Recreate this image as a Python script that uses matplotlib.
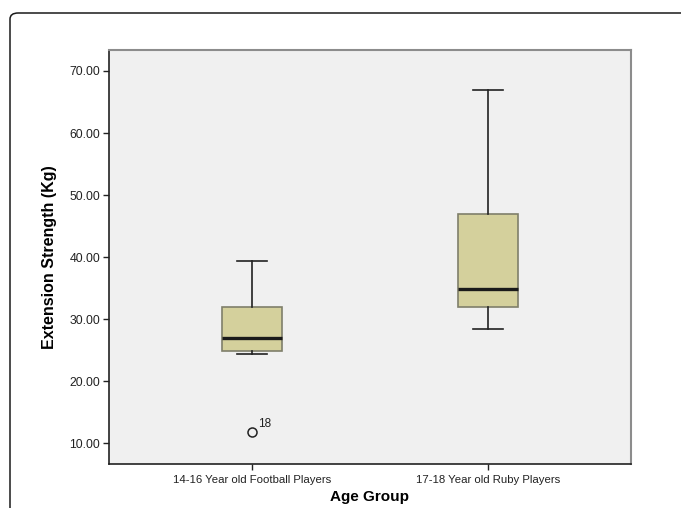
import matplotlib
matplotlib.use('Agg')
import matplotlib.pyplot as plt
from matplotlib.patches import FancyBboxPatch

plt.rcParams['font.family'] = ['Liberation Sans', 'DejaVu Sans']

grupos = ['14-16 Year old Football Players', '17-18 Year old Ruby Players']
bigote_inf = [24.35, 28.45]
q1 = [24.85, 31.9]
mediana = [27.05, 34.85]
q3 = [32.0, 46.95]
bigote_sup = [39.35, 67.0]
atipicos = [[11.8], []]
etiquetas_atipicos = [['18'], []]

stats = []
for i in range(len(grupos)):
    stats.append({'whislo': bigote_inf[i], 'q1': q1[i], 'med': mediana[i],
                  'q3': q3[i], 'whishi': bigote_sup[i], 'fliers': atipicos[i],
                  'label': grupos[i]})

fig = plt.figure(figsize=(6.81, 5.08), dpi=100)
fig.patch.set_facecolor('white')

# marco redondeado exterior (se sale por la derecha y por abajo)
marco = FancyBboxPatch((10/681, -0.3), 1.3, 0.3 + 1 - 13/508, transform=fig.transFigure,
                       boxstyle='round,pad=0,rounding_size=0.012',
                       facecolor='none', edgecolor='#1a1a1a', lw=1.1, clip_on=False)
fig.patches.append(marco)

ax = fig.add_axes([0.1596, 0.086, 0.7665, 0.8156])
ax.set_facecolor('#f0f0f0')

ax.bxp(stats, positions=[1, 2], widths=0.252, patch_artist=True,
       boxprops=dict(facecolor='#d4d09c', edgecolor='#7f7f6a', lw=1.2),
       medianprops=dict(color='#1a1a1a', lw=2.4),
       whiskerprops=dict(color='#222222', lw=1.2),
       capprops=dict(color='#222222', lw=1.2),
       capwidths=0.126,
       flierprops=dict(marker='o', markerfacecolor='none', markeredgecolor='#222222',
                       markersize=6.5, markeredgewidth=1.1))

for i, (vals, labs) in enumerate(zip(atipicos, etiquetas_atipicos)):
    for v, t in zip(vals, labs):
        ax.annotate(t, (i + 1, v), xytext=(4, 4), textcoords='offset points',
                    fontsize=8.5, color='#222222')

ax.set_xlim(0.392, 2.605)
ax.set_ylim(6.62, 73.38)
ax.set_yticks([10, 20, 30, 40, 50, 60, 70])
ax.set_yticklabels(['%.2f' % v for v in [10, 20, 30, 40, 50, 60, 70]])
ax.tick_params(axis='y', labelsize=8.8, colors='#222222', length=4, width=1, pad=2)
ax.tick_params(axis='x', labelsize=8.2, colors='#222222', length=4, width=1, pad=4)
ax.set_xticks([1, 2])
ax.set_xticklabels(grupos)

for lado in ['left', 'bottom']:
    ax.spines[lado].set_color('#222222')
    ax.spines[lado].set_linewidth(1.2)
for lado in ['top', 'right']:
    ax.spines[lado].set_color('#8c8c8c')
    ax.spines[lado].set_linewidth(1.5)

ax.set_ylabel('Extension Strength (Kg)', fontsize=11.5, fontweight='bold', labelpad=9)
ax.set_xlabel('Age Group', fontsize=11, fontweight='bold', labelpad=3)

fig.savefig('out.png', dpi=100)
